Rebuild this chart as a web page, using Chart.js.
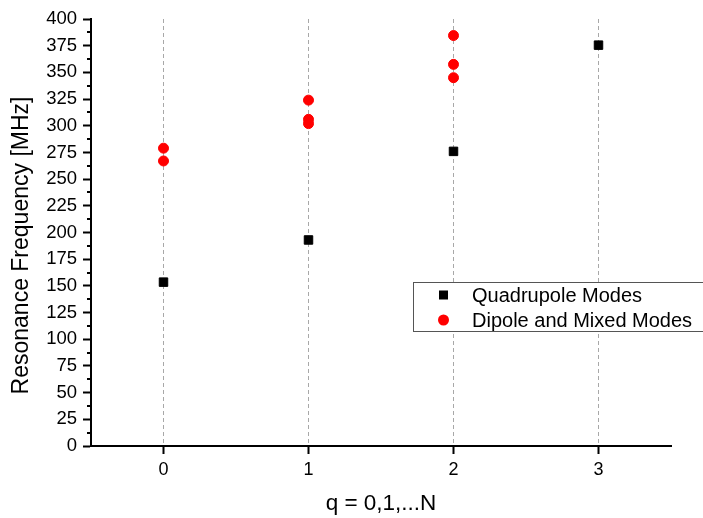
<!DOCTYPE html>
<html>
<head>
<meta charset="utf-8">
<script src="https://cdn.jsdelivr.net/npm/chart.js@4"></script>
<style>
  html, body { margin: 0; padding: 0; background: #fff; }
  #wrap { width: 703px; height: 518px; position: relative; }
</style>
</head>
<body>
<div id="wrap"><canvas id="resChart"></canvas></div>
<script>
// data
const xTicks = [0, 1, 2, 3];
const quadX = [0, 1, 2, 3];
const quadY = [153.5, 193, 276, 375.5];
const dipoleX = [0, 0, 1, 1, 1, 2, 2, 2];
const dipoleY = [279, 267, 324, 306, 302, 384.5, 357.5, 345];

const FONT = 'Arial, "Liberation Sans", sans-serif';
const yTitle = 'Resonance Frequency [MHz]';

function toPoints(xs, ys) {
    return xs.map(function(x, i) { return { x: x, y: ys[i] }; });
}

// minor ticks, y title (sits a bit below centre) and the floating legend box
const extras = {
    id: 'extras',
    afterDraw: function(chart) {
        const ctx = chart.ctx;
        const ys = chart.scales.y;
        ctx.save();
        ctx.strokeStyle = '#000';
        ctx.lineWidth = 2;
        for (let v = 12.5; v < 400; v += 25) {
            const py = Math.round(ys.getPixelForValue(v));
            ctx.beginPath();
            ctx.moveTo(ys.right - 4, py);
            ctx.lineTo(ys.right, py);
            ctx.stroke();
        }

        ctx.save();
        ctx.translate(22, 245.5);
        ctx.rotate(-Math.PI / 2);
        ctx.fillStyle = '#000';
        ctx.font = '23px ' + FONT;
        ctx.textAlign = 'center';
        ctx.textBaseline = 'middle';
        ctx.fillText(yTitle, 0, 0);
        ctx.restore();

        // legend
        const bx = 413.5, by = 282.5, bw = 300, bh = 49;
        ctx.fillStyle = '#fff';
        ctx.fillRect(bx, by, bw, bh);
        ctx.strokeStyle = '#555';
        ctx.lineWidth = 1;
        ctx.strokeRect(bx, by, bw, bh);
        ctx.font = '20px ' + FONT;
        ctx.textBaseline = 'middle';
        chart.data.datasets.forEach(function(ds, i) {
            const cy = 295 + i * 25;
            ctx.fillStyle = ds.backgroundColor;
            if (ds.pointStyle === 'rect') {
                ctx.fillRect(439, cy - 4.5, 9, 9);
            } else {
                ctx.beginPath();
                ctx.arc(443.5, cy, 5.5, 0, Math.PI * 2);
                ctx.fill();
            }
            ctx.fillStyle = '#000';
            ctx.fillText(ds.label, 472, cy + 1);
        });
        ctx.restore();
    }
};

new Chart(document.getElementById('resChart').getContext('2d'), {
    type: 'scatter',
    data: {
        datasets: [{
            label: 'Quadrupole Modes',
            data: toPoints(quadX, quadY),
            pointStyle: 'rect',
            backgroundColor: '#000',
            borderColor: '#000',
            borderWidth: 1,
            pointRadius: 6,
            pointHoverRadius: 6
        }, {
            label: 'Dipole and Mixed Modes',
            data: toPoints(dipoleX, dipoleY),
            pointStyle: 'circle',
            backgroundColor: '#ff0000',
            borderColor: '#ff0000',
            borderWidth: 1,
            pointRadius: 5,
            pointHoverRadius: 5
        }]
    },
    options: {
        responsive: true,
        maintainAspectRatio: false,
        animation: false,
        layout: { padding: { left: 0, top: 19, right: 32, bottom: 0 } },
        plugins: {
            legend: { display: false },
            tooltip: { enabled: false }
        },
        scales: {
            x: {
                type: 'linear',
                min: -0.5,
                max: 3.5,
                afterBuildTicks: function(scale) {
                    scale.ticks = xTicks.map(function(v) { return { value: v }; });
                },
                afterFit: function(scale) { scale.height = 72; },
                grid: {
                    color: '#a8a8a8',
                    lineWidth: 1,
                    tickColor: '#000',
                    tickWidth: 2,
                    tickLength: 8
                },
                border: { color: '#000', width: 2, dash: [4, 3] },
                ticks: {
                    color: '#000',
                    font: { family: FONT, size: 18 },
                    padding: 5,
                    maxRotation: 0
                },
                title: {
                    display: true,
                    text: 'q = 0,1,...N',
                    color: '#000',
                    font: { family: FONT, size: 22.5 },
                    padding: { top: 0, bottom: 1 }
                }
            },
            y: {
                min: 0,
                max: 400,
                afterFit: function(scale) { scale.width = 91; },
                ticks: {
                    stepSize: 25,
                    color: '#000',
                    font: { family: FONT, size: 18.5 },
                    padding: 6
                },
                grid: {
                    drawOnChartArea: false,
                    color: '#000',
                    tickColor: '#000',
                    tickWidth: 2,
                    tickLength: 8
                },
                border: { color: '#000', width: 2 }
            }
        }
    },
    plugins: [extras]
});
</script>
</body>
</html>
